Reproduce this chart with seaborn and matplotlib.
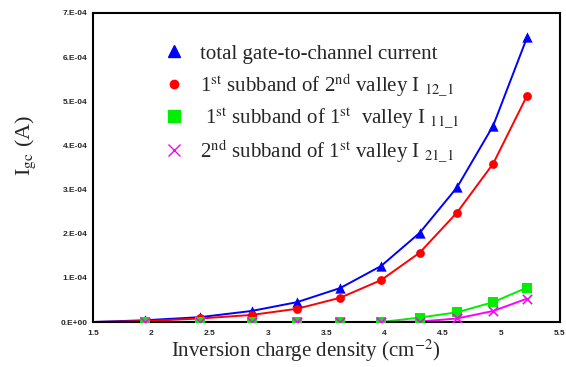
import numpy as np
import pandas as pd
import matplotlib
matplotlib.use("Agg")
import matplotlib.pyplot as plt
import seaborn as sns
from matplotlib.lines import Line2D

# data
density = [1.95, 2.42, 2.86, 3.25, 3.62, 3.97, 4.30, 4.62, 4.93, 5.22]
total = [0.04e-4, 0.11e-4, 0.25e-4, 0.45e-4, 0.77e-4, 1.27e-4, 2.02e-4, 3.05e-4, 4.45e-4, 6.45e-4]
i12 = [0.02e-4, 0.08e-4, 0.16e-4, 0.30e-4, 0.55e-4, 0.95e-4, 1.57e-4, 2.48e-4, 3.59e-4, 5.13e-4]
i11 = [0.0, 0.0, 0.0, 0.0, 0.0, 0.0, 0.10e-4, 0.22e-4, 0.45e-4, 0.78e-4]
i21 = [0.0, 0.0, 0.0, 0.0, 0.0, 0.0, 0.01e-4, 0.08e-4, 0.25e-4, 0.53e-4]

y_ticks = [0, 1e-4, 2e-4, 3e-4, 4e-4, 5e-4, 6e-4, 7e-4]
y_tick_labels = ["0.E+00", "1.E-04", "2.E-04", "3.E-04", "4.E-04", "5.E-04", "6.E-04", "7.E-04"]
x_ticks = [1.5, 2, 2.5, 3, 3.5, 4, 4.5, 5, 5.5]
x_tick_labels = ["1.5", "2", "2.5", "3", "3.5", "4", "4.5", "5", "5.5"]

labels = [
    "total gate-to-channel current",
    r"1$^{\rm st}$ subband of 2$^{\rm nd}$ valley I $_{\rm 12\_1}$",
    r" 1$^{\rm st}$ subband of 1$^{\rm st}$  valley I $_{\rm 11\_1}$",
    r"2$^{\rm nd}$ subband of 1$^{\rm st}$ valley I $_{\rm 21\_1}$",
]
colors = ["#0000ff", "#ff0000", "#00ee00", "#ff00ff"]
markers = ["^", "o", "s", "x"]
sizes = [55, 40, 55, 45]

sns.set_style("white")
plt.rcParams["font.family"] = ["Liberation Serif", "DejaVu Serif"]
plt.rcParams["mathtext.fontset"] = "stix"

fig = plt.figure(figsize=(5.66, 3.67), dpi=100)
ax = fig.add_axes([0.164, 0.1226, 0.825, 0.842])

series = [total, i12, i11, i21]
for vals, lab, c, m, s in zip(series, labels, colors, markers, sizes):
    df = pd.DataFrame({"x": [1.5] + density, "y": [0.0] + vals})
    sns.lineplot(data=df, x="x", y="y", color=c, linewidth=1.4, ax=ax)
    pts = pd.DataFrame({"x": density, "y": vals})
    if m == "x":
        sns.scatterplot(data=pts, x="x", y="y", color=c, marker=m, s=s,
                        linewidth=1.2, ax=ax, zorder=3)
    else:
        sns.scatterplot(data=pts, x="x", y="y", color=c, marker=m, s=s,
                        edgecolor=c, linewidth=0, ax=ax, zorder=3)

ax.set_xlim(1.5, 5.5)
ax.set_ylim(0, 7e-4)
ax.set_xticks(x_ticks)
ax.set_xticklabels(x_tick_labels)
ax.set_yticks(y_ticks)
ax.set_yticklabels(y_tick_labels)
for t in ax.get_xticklabels() + ax.get_yticklabels():
    t.set_fontfamily("Liberation Sans")
    t.set_fontweight("bold")
    t.set_fontsize(6)
ax.tick_params(axis="x", direction="in", length=3, width=1, pad=6)
ax.tick_params(axis="y", direction="out", length=2, width=1, pad=2)

for sp in ax.spines.values():
    sp.set_color("black")
    sp.set_linewidth(1.5)

ax.set_xlabel(r"Inversion charge density (cm$^{-2}$)", fontsize=15)
ax.xaxis.set_label_coords(0.455, -0.05)
ax.set_ylabel(r"I$_{\rm gc}$ (A)", fontsize=16)
ax.yaxis.set_label_coords(-0.117, 0.57)

handles = [
    Line2D([], [], linestyle="none", marker=m, color=c, markersize=8 if m != "o" else 6,
           markeredgewidth=1.0)
    for m, c in zip(markers, colors)
]
ax.legend(handles, labels, loc="upper left", bbox_to_anchor=(0.1, 0.96),
          frameon=False, fontsize=15, handletextpad=0.5, labelspacing=0.35,
          handlelength=1.5)

fig.savefig("out.png", dpi=100)
